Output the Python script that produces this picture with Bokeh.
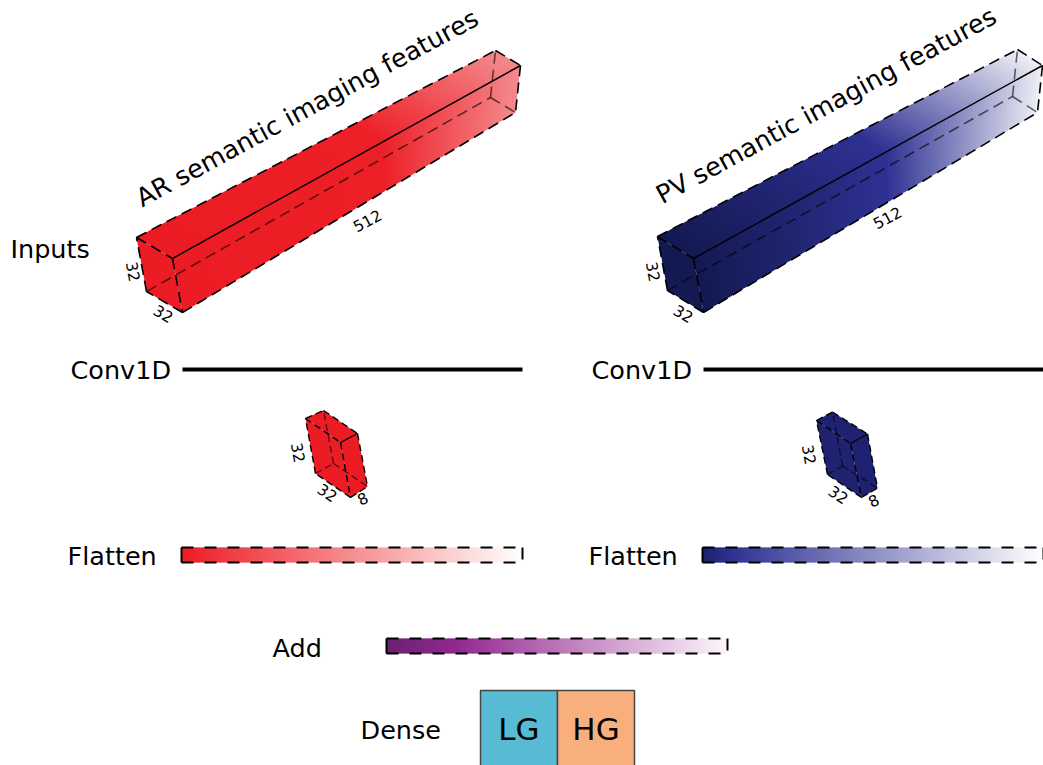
import math
from bokeh.plotting import figure
from bokeh.models import Range1d
from bokeh.core.properties import value
from bokeh.embed import file_html
from bokeh.resources import INLINE

# ---------------- data ----------------
branch_names = ["AR", "PV"]
branch_titles = ["AR semantic imaging features", "PV semantic imaging features"]
input_dims = [32, 32, 512]          # height, width, length
conv_dims = [32, 32, 8]
layer_labels = ["Inputs", "Conv1D", "Flatten", "Add", "Dense"]
dense_classes = ["LG", "HG"]

# colour stops (position along the layer, colour)
ar_box_stops = [(0.0, "#EC1C24"), (0.6, "#ED1F27"), (1.0, "#F48A8E")]
pv_box_stops = [(0.0, "#131951"), (0.55, "#2E3192"), (1.0, "#EFEFF6")]
ar_flat_stops = [(0.0, "#ED1C24"), (1.0, "#FFFFFF")]
pv_flat_stops = [(0.0, "#1B2169"), (0.08, "#2E3192"), (1.0, "#FFFFFF")]
add_stops = [(0.0, "#6A2270"), (0.2, "#92278F"), (1.0, "#FCF7FC")]
conv_colors = ["#EC1C24", "#1E2270"]
dense_colors = ["#56BBD3", "#F9AF7B"]

# ---------------- layout ----------------
REF_W, REF_H = 1043, 765
FIG_W, FIG_H = 1043, 765
FS = FIG_W / REF_W
FONT = value("DejaVu Sans")


def Y(py):
    return REF_H - py


def hex2rgb(h):
    h = h.lstrip("#")
    return tuple(int(h[i:i + 2], 16) for i in (0, 2, 4))


def grad(stops, t):
    for (t0, c0), (t1, c1) in zip(stops[:-1], stops[1:]):
        if t <= t1:
            f = 0 if t1 == t0 else (t - t0) / (t1 - t0)
            a, b = hex2rgb(c0), hex2rgb(c1)
            r = [round(a[k] + f * (b[k] - a[k])) for k in range(3)]
            return "#%02X%02X%02X" % tuple(r)
    return stops[-1][1]


def fs(px):
    return value("%.1fpx" % (px * FS))


p = figure(width=FIG_W, height=FIG_H, output_backend="svg", toolbar_location=None,
           x_range=Range1d(0, REF_W), y_range=Range1d(0, REF_H), min_border=0)
p.axis.visible = False
p.grid.visible = False
p.outline_line_color = None
p.background_fill_color = "white"
p.border_fill_color = "white"


def make_proj(o, L, Wf, Hf, Wb, Hb):
    def P(u, v, w):
        x = o[0] + u * L[0] + v * (Wf[0] * (1 - u) + Wb[0] * u) + w * (Hf[0] * (1 - u) + Hb[0] * u)
        y = o[1] + u * L[1] + v * (Wf[1] * (1 - u) + Wb[1] * u) + w * (Hf[1] * (1 - u) + Hb[1] * u)
        return x, Y(y)
    return P


def draw_box(P, stops, n, lw, dash):
    xs, ys, cols = [], [], []
    for i in range(n):
        u0 = i / n
        u1 = min(1.0, (i + 1.7) / n)
        c = grad(stops, (i + 0.5) / n)
        for quad in ([(u0, 0, 0), (u1, 0, 0), (u1, 1, 0), (u0, 1, 0)],
                     [(u0, 1, 0), (u1, 1, 0), (u1, 1, 1), (u0, 1, 1)]):
            pts = [P(*q) for q in quad]
            xs.append([a for a, _ in pts])
            ys.append([b for _, b in pts])
            cols.append(c)
    p.patches(xs, ys, fill_color=cols, line_color=None)
    front = [P(0, 0, 0), P(0, 1, 0), P(0, 1, 1), P(0, 0, 1)]
    p.patch([a for a, _ in front], [b for _, b in front], fill_color=grad(stops, 0), line_color=None)

    def seg(list_):
        return [[P(*a)[0], P(*b)[0]] for a, b in list_], [[P(*a)[1], P(*b)[1]] for a, b in list_]

    hidden = [((1, 0, 1), (1, 0, 0)), ((1, 0, 1), (1, 1, 1)), ((0, 0, 1), (1, 0, 1))]
    visible = [((0, 0, 0), (0, 1, 0)), ((0, 1, 0), (0, 1, 1)), ((0, 1, 1), (0, 0, 1)),
               ((0, 0, 1), (0, 0, 0)), ((0, 0, 0), (1, 0, 0)), ((0, 1, 1), (1, 1, 1)),
               ((1, 0, 0), (1, 1, 0)), ((1, 1, 0), (1, 1, 1))]
    solid = [((0, 1, 0), (1, 1, 0))]
    hx, hy = seg(hidden)
    p.multi_line(hx, hy, line_color="black", line_alpha=0.6, line_width=lw, line_dash=dash)
    vx, vy = seg(visible)
    p.multi_line(vx, vy, line_color="black", line_width=lw, line_dash=dash)
    sx, sy = seg(solid)
    p.multi_line(sx, sy, line_color="black", line_width=lw * 0.9)


def draw_bar(x0, x1, y0, y1, stops, n=140):
    lefts, rights, cols = [], [], []
    dx = (x1 - x0) / n
    for i in range(n):
        lefts.append(x0 + i * dx)
        rights.append(min(x1, x0 + (i + 1.6) * dx))
        cols.append(grad(stops, (i + 0.5) / n))
    p.quad(left=lefts, right=rights, top=[Y(y0)] * n, bottom=[Y(y1)] * n,
           fill_color=cols, line_color=None)
    p.multi_line([[x0, x1], [x0, x1], [x1, x1]], [[Y(y0), Y(y0)], [Y(y1), Y(y1)], [Y(y0), Y(y1)]],
                 line_color="black", line_width=2, line_dash="12 11")
    p.line([x0, x0], [Y(y0), Y(y1)], line_color="black", line_width=2)


def txt(x, y, s, size, angle_deg=0, align="left", baseline="middle"):
    p.text(x=[x], y=[Y(y)], text=[s], angle=math.radians(angle_deg), text_font=FONT,
           text_font_size=fs(size), text_align=align, text_baseline=baseline, text_color="black")


# geometry per branch
big_geo = {
    "AR": dict(o=(136, 237), L=(359, -187), Wf=(36, 21), Hf=(10, 54), Wb=(25, 15), Hb=(-5, 47)),
    "PV": dict(o=(657, 236), L=(360, -187), Wf=(36, 22), Hf=(10, 54), Wb=(25, 16), Hb=(-5, 47)),
}
small_geo = {
    "AR": dict(o=(305, 418), L=(18, -8), Wf=(35, 24), Hf=(10, 55), Wb=(34, 23), Hb=(10, 53)),
    "PV": dict(o=(816, 420), L=(16, -8.5), Wf=(34, 23), Hf=(11, 54), Wb=(35, 22), Hb=(10, 54)),
}
box_stops = {"AR": ar_box_stops, "PV": pv_box_stops}
flat_stops = {"AR": ar_flat_stops, "PV": pv_flat_stops}

for bi, b in enumerate(branch_names):
    # Inputs box
    draw_box(make_proj(**big_geo[b]), box_stops[b], 90, 1.6, "11 6")
    txt([137.5, 657.5][bi], [199, 196][bi], branch_titles[bi], 25.5, 28.5)
    txt(366.7 + [0, 520][bi], [220, 217][bi], str(input_dims[2]), 15.5, 28.5, "center")
    txt(133 + [0, 520][bi], 271, str(input_dims[0]), 15.5, -79, "center")
    txt(163 + [0, 520][bi], 313, str(input_dims[1]), 15.5, -30, "center")

    # Conv1D
    cx0 = [70, 591][bi]
    txt(cx0, 369, layer_labels[1], 25.5)
    p.line([182 + [0, 521][bi], 522 + [0, 521][bi]], [Y(369), Y(369)], line_color="black", line_width=4)

    # Conv output box
    sg = small_geo[b]
    draw_box(make_proj(**sg), [(0, conv_colors[bi]), (1, conv_colors[bi])], 6, 1.4, "7 4")
    ox, oy = sg["o"]
    txt(ox - 7, oy + 34, str(conv_dims[0]), 15.5, -79, "center")
    txt(ox + 22, oy + 74, str(conv_dims[1]), 15.5, -34, "center")
    txt(ox + 57, oy + 80, str(conv_dims[2]), 15.5, 26, "center")

    # Flatten
    txt([67, 588][bi], 555, layer_labels[2], 25.5)
    fx0 = [181, 702][bi]
    draw_bar(fx0, fx0 + 341, 547, 562, flat_stops[b])

# Inputs label
txt(10, 248, layer_labels[0], 25.5)

# Add
txt(272, 647, layer_labels[3], 25.5)
draw_bar(386, 727, 638, 653, add_stops)

# Dense
txt(360, 729, layer_labels[4], 25.5)
dl = [480, 557]
dr = [557, 634]
p.quad(left=dl, right=dr, top=[Y(690)] * 2, bottom=[Y(770)] * 2,
       fill_color=dense_colors, line_color="#444444", line_width=1.5)
for i, c in enumerate(dense_classes):
    txt((dl[i] + dr[i]) / 2, 728, c, 31, 0, "center")

open("out.html", "w").write(file_html(p, INLINE))
